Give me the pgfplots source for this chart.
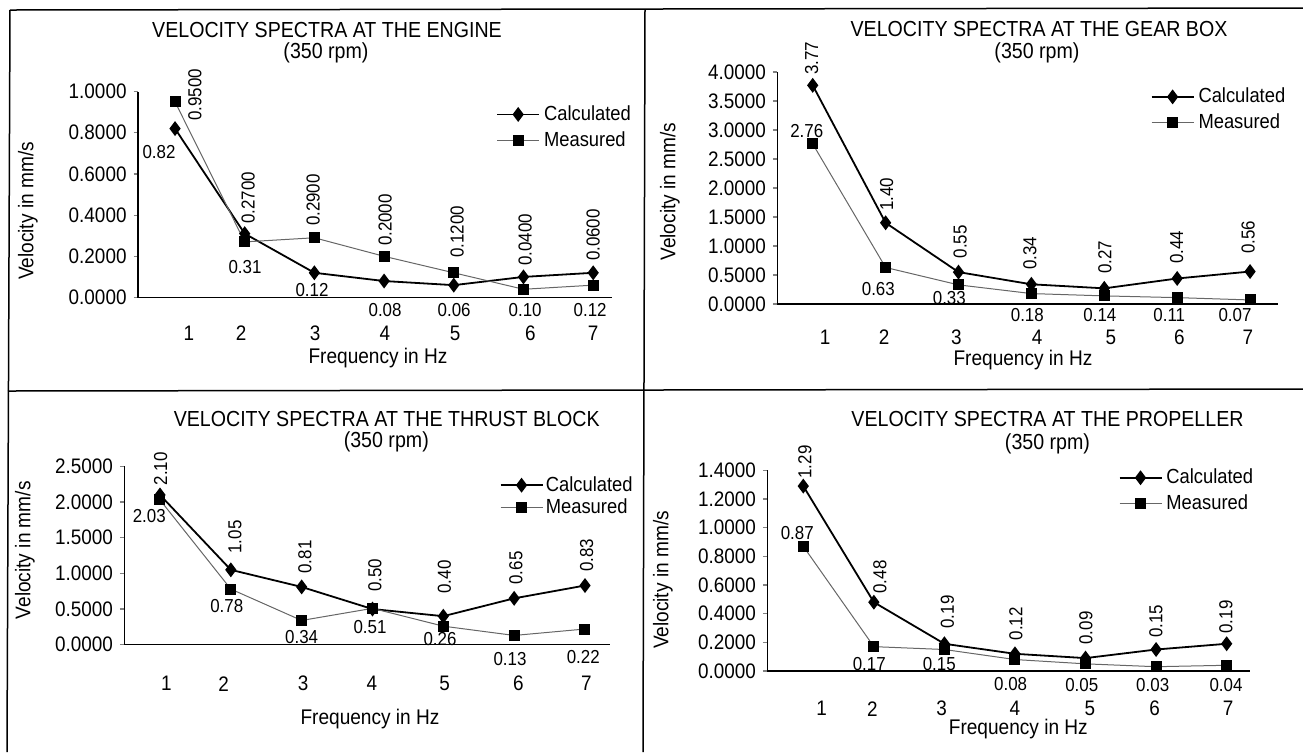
\documentclass[border=0pt]{standalone}
\usepackage{pgfplots}
\pgfplotsset{compat=1.18}
\usepackage{fontspec}
\setmainfont[FakeStretch=0.9]{Liberation Sans}

\tikzset{
  lab/.style={font=\fontsize{9.4}{11}\selectfont, inner sep=0pt},
  ttl/.style={font=\fontsize{10.9}{12}\selectfont, inner sep=0pt},
  albl/.style={font=\fontsize{10.6}{12}\selectfont, inner sep=0pt},
}

\pgfplotsset{
  vs/.style={
    scale only axis, clip=false, anchor=south west,
    axis x line*=bottom, axis y line*=left,
    axis line style={line width=0.6pt},
    ymin=0,
    xtick style={draw=none},
    ytick align=outside, major tick length=2.2pt,
    ytick style={line width=0.6pt},
    tick label style={font=\fontsize{10.5}{12}\selectfont},
    /pgf/number format/assume math mode=true,
    y tick label style={/pgf/number format/fixed, /pgf/number format/fixed zerofill, /pgf/number format/precision=4},
    xticklabels={1,2,3,4,5,6,7},
    xticklabel style={anchor=center},
    legend style={draw=none, fill=none, inner sep=0pt, anchor=north west, font=\fontsize{10.2}{12}\selectfont},
    legend cell align=left,
    legend image code/.code={\draw[mark repeat=2,mark phase=2,##1] plot coordinates {(0pt,0pt) (10.5pt,0pt) (21pt,0pt)};},
  },
  calc/.style={black, line width=0.9pt, mark=diamond*, mark size=3pt, mark options={solid,fill=black}},
  meas/.style={black!60, line width=0.5pt, mark=square*, mark size=2.5pt, mark options={black,fill=black}},
}

\begin{document}
\begin{tikzpicture}
\begin{scope}[x=0.5pt,y=-0.5pt]
\useasboundingbox (0,0) rectangle (1303,752);
\draw[line width=0.75pt] (10,10) -- (1303,8);
\draw[line width=0.75pt] (8,391) -- (1303,389);
\draw[line width=0.75pt] (10,10) -- (7,752);
\draw[line width=0.75pt] (645,10) -- (643,752);
\end{scope}

% engine
\begin{axis}[vs, at={(69pt,-148.75pt)}, width=237pt, height=103pt,
  xmin=0.469, xmax=7.27, ymax=1, ytick distance=0.2,
  xtick={1.2,1.95,3.01,4.01,5.02,6.1,7.0}, xticklabel style={yshift=-17.75pt},
  legend style={at={(rel axis cs:0.755,0.953)}}]
\addplot[calc] coordinates {(1,0.82) (2,0.31) (3,0.12) (4,0.08) (5,0.06) (6,0.10) (7,0.12)};
\addplot[meas] coordinates {(1,0.95) (2,0.27) (3,0.29) (4,0.20) (5,0.12) (6,0.04) (7,0.06)};
\legend{Calculated,Measured}
\node[lab,rotate=90] at (axis cs:1.287,0.983) {0.9500};
\node[lab] at (axis cs:0.770,0.706) {0.82};
\node[lab,rotate=90] at (axis cs:2.048,0.483) {0.2700};
\node[lab] at (axis cs:2.005,0.148) {0.31};
\node[lab,rotate=90] at (axis cs:2.981,0.473) {0.2900};
\node[lab] at (axis cs:2.966,0.036) {0.12};
\node[lab,rotate=90] at (axis cs:4.014,0.376) {0.2000};
\node[lab] at (axis cs:4.014,-0.061) {0.08};
\node[lab,rotate=90] at (axis cs:5.048,0.318) {0.1200};
\node[lab] at (axis cs:5.005,-0.061) {0.06};
\node[lab,rotate=90] at (axis cs:6.024,0.279) {0.0400};
\node[lab] at (axis cs:6.024,-0.061) {0.10};
\node[lab,rotate=90] at (axis cs:7.0,0.303) {0.0600};
\node[lab] at (axis cs:6.957,-0.061) {0.12};
\end{axis}

% gear box
\begin{axis}[vs, at={(388.65pt,-152pt)}, width=250.35pt, height=116pt,
  xmin=0.514, xmax=7.383, ymax=4, ytick distance=0.5,
  xtick={1.17,1.98,2.97,4.08,5.09,6.03,6.97}, xticklabel style={yshift=-16.5pt},
  legend style={at={(rel axis cs:0.745,0.950)}}]
\addplot[calc] coordinates {(1,3.77) (2,1.40) (3,0.55) (4,0.34) (5,0.27) (6,0.44) (7,0.56)};
\addplot[meas] coordinates {(1,2.76) (2,0.63) (3,0.33) (4,0.18) (5,0.14) (6,0.11) (7,0.07)};
\legend{Calculated,Measured}
\node[lab,rotate=90] at (axis cs:0.986,4.236) {3.77};
\node[lab] at (axis cs:0.918,2.988) {2.76};
\node[lab,rotate=90] at (axis cs:2.015,1.891) {1.40};
\node[lab] at (axis cs:1.900,0.253) {0.63};
\node[lab,rotate=90] at (axis cs:3.021,1.074) {0.55};
\node[lab] at (axis cs:2.874,0.098) {0.33};
\node[lab,rotate=90] at (axis cs:3.981,0.874) {0.34};
\node[lab] at (axis cs:3.944,-0.190) {0.18};
\node[lab,rotate=90] at (axis cs:5.010,0.805) {0.27};
\node[lab] at (axis cs:4.940,-0.190) {0.14};
\node[lab,rotate=90] at (axis cs:5.993,0.978) {0.44};
\node[lab] at (axis cs:5.892,-0.190) {0.11};
\node[lab,rotate=90] at (axis cs:6.975,1.150) {0.56};
\node[lab] at (axis cs:6.793,-0.190) {0.07};
\end{axis}

% thrust block
\begin{axis}[vs, at={(62.15pt,-322.35pt)}, width=242.85pt, height=89.15pt,
  xmin=0.496, xmax=7.353, ymax=2.5, ytick distance=0.5,
  xtick={1.09,1.90,3.02,3.99,5.02,6.06,7.02}, xticklabel style={yshift=-19.5pt},
  legend style={at={(rel axis cs:0.772,0.960)}, nodes={inner sep=1.2pt}}]
\addplot[calc] coordinates {(1,2.10) (2,1.05) (3,0.81) (4,0.50) (5,0.40) (6,0.65) (7,0.83)};
\addplot[meas] coordinates {(1,2.03) (2,0.78) (3,0.34) (4,0.51) (5,0.26) (6,0.13) (7,0.22)};
\legend{Calculated,Measured}
\node[lab,rotate=90] at (axis cs:1.010,2.468) {2.10};
\node[lab] at (axis cs:0.849,1.805) {2.03};
\node[lab,rotate=90] at (axis cs:2.059,1.511) {1.05};
\node[lab] at (axis cs:1.942,0.543) {0.78};
\node[lab,rotate=90] at (axis cs:3.047,1.230) {0.81};
\node[lab] at (axis cs:3.000,0.108) {0.34};
\node[lab,rotate=90] at (axis cs:4.035,0.973) {0.50};
\node[lab] at (axis cs:3.965,0.248) {0.51};
\node[lab,rotate=90] at (axis cs:5.014,0.950) {0.40};
\node[lab] at (axis cs:4.953,0.084) {0.26};
\node[lab,rotate=90] at (axis cs:6.026,1.076) {0.65};
\node[lab] at (axis cs:5.941,-0.196) {0.13};
\node[lab,rotate=90] at (axis cs:7.024,1.254) {0.83};
\node[lab] at (axis cs:6.976,-0.173) {0.22};
\end{axis}

% propeller
\begin{axis}[vs, at={(383.65pt,-335.5pt)}, width=241.35pt, height=100.35pt,
  xmin=0.490, xmax=7.331, ymax=1.4, ytick distance=0.2,
  xtick={1.26,1.98,2.96,4.00,5.06,5.98,7.02}, xticklabel style={yshift=-18.85pt},
  legend style={at={(rel axis cs:0.727,1.029)}}]
\addplot[calc] coordinates {(1,1.29) (2,0.48) (3,0.19) (4,0.12) (5,0.09) (6,0.15) (7,0.19)};
\addplot[meas] coordinates {(1,0.87) (2,0.17) (3,0.15) (4,0.08) (5,0.05) (6,0.03) (7,0.04)};
\legend{Calculated,Measured}
\node[lab,rotate=90] at (axis cs:1.024,1.458) {1.29};
\node[lab] at (axis cs:0.915,0.965) {0.87};
\node[lab,rotate=90] at (axis cs:2.087,0.656) {0.48};
\node[lab] at (axis cs:1.935,0.051) {0.17};
\node[lab,rotate=90] at (axis cs:3.041,0.412) {0.19};
\node[lab] at (axis cs:2.927,0.051) {0.15};
\node[lab,rotate=90] at (axis cs:4.014,0.330) {0.12};
\node[lab] at (axis cs:3.939,-0.089) {0.08};
\node[lab,rotate=90] at (axis cs:5.007,0.300) {0.09};
\node[lab] at (axis cs:4.946,-0.100) {0.05};
\node[lab,rotate=90] at (axis cs:5.999,0.347) {0.15};
\node[lab] at (axis cs:5.952,-0.100) {0.03};
\node[lab,rotate=90] at (axis cs:6.991,0.377) {0.19};
\node[lab] at (axis cs:6.991,-0.100) {0.04};
\end{axis}

\begin{scope}[x=0.5pt,y=-0.5pt]
\node[ttl] at (327,30) {VELOCITY SPECTRA AT THE ENGINE};
\node[ttl] at (326,53) {(350 rpm)};
\node[albl] at (378,358) {Frequency in Hz};
\node[albl,rotate=90] at (28,211) {Velocity in mm/s};
\node[ttl] at (1039,29.3) {VELOCITY SPECTRA AT THE GEAR BOX};
\node[ttl] at (1037,53.3) {(350 rpm)};
\node[albl] at (1023,360) {Frequency in Hz};
\node[albl,rotate=90] at (670,191.7) {Velocity in mm/s};
\node[ttl] at (386.7,418.7) {VELOCITY SPECTRA AT THE THRUST BLOCK};
\node[ttl] at (386.3,442) {(350 rpm)};
\node[albl] at (370,718.7) {Frequency in Hz};
\node[albl,rotate=90] at (25,550.3) {Velocity in mm/s};
\node[ttl] at (1047.5,418.7) {VELOCITY SPECTRA AT THE PROPELLER};
\node[ttl] at (1047.5,443.7) {(350 rpm)};
\node[albl] at (1018.3,729) {Frequency in Hz};
\node[albl,rotate=90] at (663,580) {Velocity in mm/s};
\end{scope}
\end{tikzpicture}
\end{document}
